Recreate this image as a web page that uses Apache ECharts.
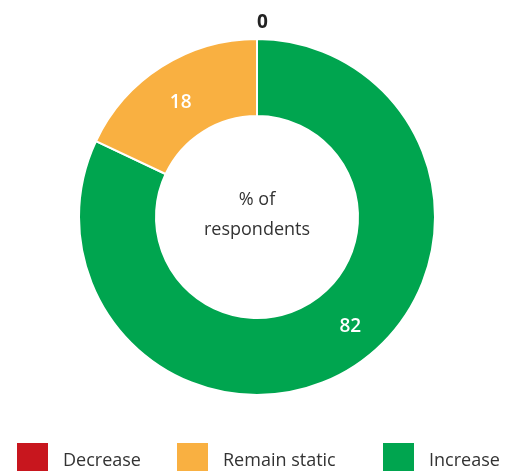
<!DOCTYPE html>
<html>
<head>
<meta charset="utf-8">
<script src="https://cdn.jsdelivr.net/npm/echarts@6/dist/echarts.min.js"></script>
<style>
html,body{margin:0;padding:0;background:#fff;}
#chart{width:512px;height:471px;}
</style>
</head>
<body>
<div id="chart"></div>
<script>
var categories = ['Increase', 'Remain static', 'Decrease'];
var values = [82, 18, 0];
var legendOrder = ['Decrease', 'Remain static', 'Increase'];
var colors = {'Increase': '#00A54F', 'Remain static': '#F9B041', 'Decrease': '#C8161E'};
var centerText = '% of\nrespondents';

var font = '"Open Sans", "Noto Sans", sans-serif';
var chart = echarts.init(document.getElementById('chart'));

var labelOffsets = {'Increase': [17, -11], 'Remain static': [0, 6], 'Decrease': [-5, -12]};

var data = categories.map(function (c, i) {
  var d = { name: c, value: values[i], itemStyle: { color: colors[c] }, label: { offset: labelOffsets[c] } };
  if (values[i] === 0) {
    d.label = { position: 'outside', color: '#222', fontWeight: 'bold', fontSize: 19, offset: labelOffsets[c] };
    d.labelLine = { show: false, length: 4, length2: 0 };
  }
  return d;
});

var legendLefts = [17, 177, 383];
var legends = legendOrder.map(function (n, i) {
  return {
    data: [n], left: legendLefts[i], top: 443, padding: 0,
    itemWidth: 31, itemHeight: 28, itemGap: 0,
    icon: 'rect', selectedMode: false, symbolKeepAspect: false,
    itemStyle: { borderWidth: 0 },
    formatter: '{t|{name}}',
    textStyle: {
      fontFamily: font, fontSize: 18, color: '#333',
      rich: { t: { fontFamily: font, fontSize: 18, color: '#333', padding: [7, 0, 0, 10] } }
    }
  };
});

chart.setOption({
  animation: false,
  legend: legends,
  graphic: [{
    type: 'text', x: 257, y: 215,
    style: { text: centerText, fontFamily: font, fontSize: 18, fill: '#333', align: 'center', verticalAlign: 'middle', lineHeight: 30 }
  }],
  series: [{
    type: 'pie',
    center: [257, 217],
    radius: [101, 178],
    startAngle: 90,
    clockwise: true,
    avoidLabelOverlap: false,
    itemStyle: { borderColor: '#fff', borderWidth: 2 },
    label: { show: true, position: 'inside', formatter: '{c}', color: '#fff', fontFamily: font, fontSize: 19, fontWeight: 600 },
    labelLine: { show: false },
    emphasis: { disabled: true },
    data: data
  }]
});
</script>
</body>
</html>
